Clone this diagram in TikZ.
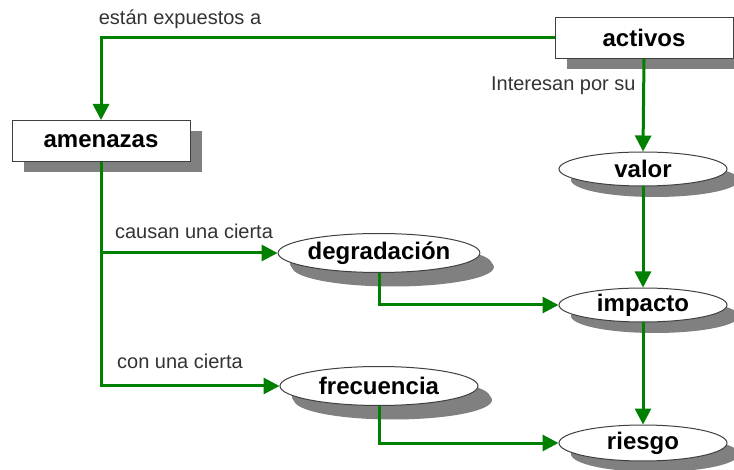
\documentclass[tikz,border=0pt]{standalone}
\usepackage{fontspec}
\setmainfont{Liberation Sans}
\usepackage{xcolor}
\usepackage{tikz}
\usetikzlibrary{arrows.meta,shapes.geometric,shadows}

\definecolor{flowgreen}{RGB}{0,128,0}
\definecolor{shadowgray}{RGB}{128,128,128}

\begin{document}
\begin{tikzpicture}[x=0.5pt, y=-0.5pt,
    flow/.style={draw=flowgreen, line width=1.5pt, -{Triangle[length=8pt, width=8pt]}},
    entity/.style={draw=black!75, fill=white, line width=0.5pt, inner sep=0pt, minimum width=89pt, minimum height=20.5pt, font=\fontsize{12}{14}\selectfont\bfseries, drop shadow={shadow xshift=6pt, shadow yshift=-5.5pt, fill=shadowgray, opacity=1}},
    measure/.style={ellipse, draw=black!75, fill=white, line width=0.5pt, inner sep=0pt, minimum width=84pt, minimum height=17pt, font=\fontsize{12}{14}\selectfont\bfseries, drop shadow={shadow xshift=6pt, shadow yshift=-5.5pt, fill=shadowgray, opacity=1}},
    wide/.style={minimum width=99pt, minimum height=19.5pt, drop shadow={shadow xshift=7pt, shadow yshift=-7pt, fill=shadowgray, opacity=1}},
    tag/.style={inner sep=0pt, text=black!80, font=\fontsize{10}{12}\selectfont}]
    \useasboundingbox (0,0) rectangle (734,470);

    \node [entity] (activos) at (644,38) {activos};
    \node [entity] (amenazas) at (101,141) {amenazas};

    \node [measure] (valor) at (643,169) {valor};
    \node [measure] (impacto) at (643,305) {impacto};
    \node [measure, minimum height=18pt] (riesgo) at (643,443) {riesgo};

    \node [measure, wide] (degradacion) at (379,253) {degradación};
    \node [measure, wide] (frecuencia) at (379,386) {frecuencia};

    \draw[flow] (activos.west) -| (amenazas.north);
    \draw[flow] (activos.south) -- (valor.north);
    \draw[flow] (valor.south) -- (impacto.north);
    \draw[flow] (impacto.south) -- (riesgo.north);
    \draw[flow] (amenazas.south) |- (frecuencia.west);
    \draw[flow] (amenazas.south |- degradacion.west) -- (degradacion.west);
    \draw[flow] (degradacion.south) |- (impacto.west);
    \draw[flow] (frecuencia.south) |- (riesgo.west);

    % labels
    \node [tag] (expuestos) at (180,19) {están expuestos a};
    \node [tag, anchor=east] (interesan) at (636,86) {Interesan por su};
    \node [tag] (causan) at (194,231) {causan una cierta};
    \node [tag] (conuna) at (180,361) {con una cierta};

\end{tikzpicture}
\end{document}
